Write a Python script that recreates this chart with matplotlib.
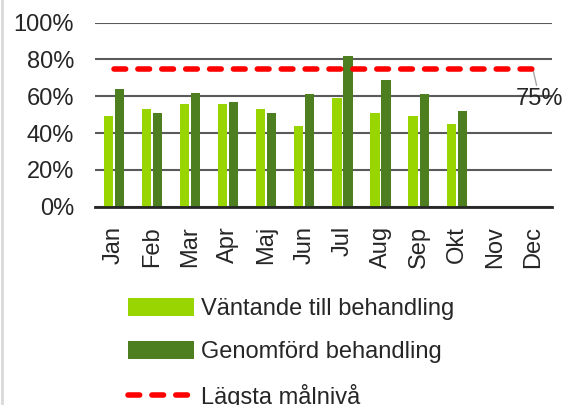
import numpy as np
import matplotlib.pyplot as plt
from matplotlib.lines import Line2D

plt.rcParams['font.family'] = ['Liberation Sans', 'DejaVu Sans']

# Data
months = ['Jan', 'Feb', 'Mar', 'Apr', 'Maj', 'Jun', 'Jul', 'Aug', 'Sep', 'Okt', 'Nov', 'Dec']
vantande = [49, 53, 56, 56, 53, 44, 59, 51, 49, 45]   # Väntande till behandling (%)
genomford = [64, 51, 62, 57, 51, 61, 82, 69, 61, 52]  # Genomförd behandling (%)
malniva = [75] * 12                                    # Lägsta målnivå (%)

light_green = '#99d500'
dark_green = '#4d7f20'
text_col = '#262626'
fs = 17

fig = plt.figure(figsize=(5.76, 4.05), dpi=100)
ax = fig.add_axes([0.165, 0.49, 0.793, 0.454])

x = np.arange(len(months))
n = len(vantande)
w = 0.24
b1 = ax.bar(x[:n] - 0.145, vantande, width=w, color=light_green, label='Väntande till behandling', zorder=3)
b2 = ax.bar(x[:n] + 0.145, genomford, width=w, color=dark_green, label='Genomförd behandling', zorder=3)
l1, = ax.plot(x, malniva, color='#ff0000', lw=4, ls=(0, (2.1, 2.2)), dash_capstyle='round',
              label='Lägsta målnivå', zorder=4)

ax.annotate('75%', xy=(x[-1], malniva[-1]), xytext=(5, -22), textcoords='offset points',
            ha='center', va='center', fontsize=fs, color=text_col,
            arrowprops=dict(arrowstyle='-', color='#a6a6a6', lw=1, shrinkA=0, shrinkB=0))

ax.set_xlim(-0.5, 11.5)
ax.set_ylim(0, 100)
ax.set_yticks(range(0, 101, 20))
ax.set_yticklabels([f'{v}%' for v in range(0, 101, 20)], fontsize=fs, color=text_col)
ax.set_xticks(x)
ax.set_xticklabels(months, rotation=90, fontsize=fs, color=text_col)
ax.tick_params(axis='x', length=0, pad=14)
ax.tick_params(axis='y', length=0, pad=15)
ax.grid(axis='y', color='#5a5a5a', lw=1.5, zorder=0)
for s in ['top', 'right', 'left']:
    ax.spines[s].set_visible(False)
ax.spines['bottom'].set_color('#262626')
ax.spines['bottom'].set_linewidth(2)
ax.spines['bottom'].set_zorder(5)

fig.legend(handles=[b1, b2, l1], loc='upper left', bbox_to_anchor=(0.205, 0.288), frameon=False,
           fontsize=fs, handlelength=2.8, handleheight=0.8, labelspacing=0.88, handletextpad=0.3,
           labelcolor=text_col, borderaxespad=0)

fig.add_artist(Line2D([0.003, 0.003], [0, 1], transform=fig.transFigure, color='#d9d9d9', lw=2))

fig.savefig('out.png', dpi=100)
